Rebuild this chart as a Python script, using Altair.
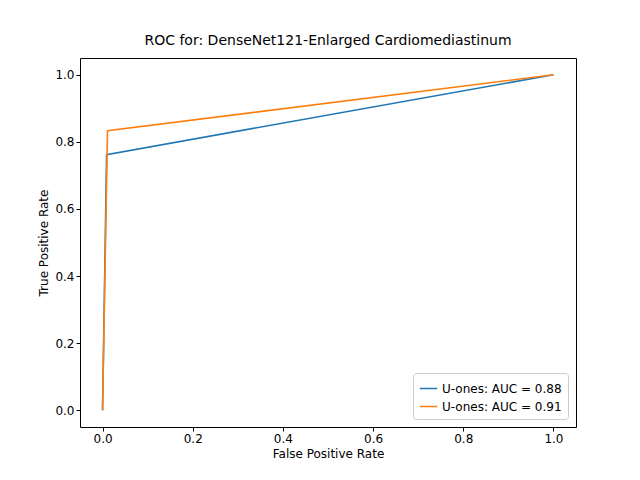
import altair as alt
import pandas as pd

fpr_a = [0.0, 0.009, 1.0]
tpr_a = [0.0, 0.762, 1.0]
fpr_b = [0.0, 0.011, 1.0]
tpr_b = [0.0, 0.833, 1.0]
labels = ["U-ones: AUC = 0.88", "U-ones: AUC = 0.91"]

df = pd.concat([
    pd.DataFrame({"fpr": fpr_a, "tpr": tpr_a, "model": labels[0], "o": range(3)}),
    pd.DataFrame({"fpr": fpr_b, "tpr": tpr_b, "model": labels[1], "o": range(3)}),
])

ticks = [0.0, 0.2, 0.4, 0.6, 0.8, 1.0]
chart = alt.Chart(df).mark_line(strokeWidth=1.6, clip=True).encode(
    x=alt.X("fpr:Q", title="False Positive Rate",
            scale=alt.Scale(domain=[-0.05, 1.05], nice=False, zero=False),
            axis=alt.Axis(values=ticks, format=".1f", grid=False)),
    y=alt.Y("tpr:Q", title="True Positive Rate",
            scale=alt.Scale(domain=[-0.05, 1.05], nice=False, zero=False),
            axis=alt.Axis(values=ticks, format=".1f", grid=False)),
    color=alt.Color("model:N", scale=alt.Scale(domain=labels, range=["#1f77b4", "#ff7f0e"]),
                    legend=alt.Legend(title=None, orient="bottom-right", symbolType="stroke",
                                      strokeColor="#cccccc", padding=6, cornerRadius=3,
                                      fillColor="white", labelFontSize=12, symbolSize=300,
                                      offset=8)),
    order="o:Q",
).properties(
    width=496, height=369,
    title=alt.Title("ROC for: DenseNet121-Enlarged Cardiomediastinum", fontSize=14,
                    fontWeight="normal", offset=10),
    autosize=alt.AutoSizeParams(type="none"),
    padding={"left": 72, "top": 50, "right": 48, "bottom": 45},
).configure(font="DejaVu Sans").configure_view(
    stroke="black", strokeWidth=1
).configure_axis(
    domain=False, labelFontSize=12, titleFontSize=12, titleFontWeight="normal",
    tickColor="black", labelColor="black", titleColor="black", tickSize=4,
)

chart.save("out.html", embed_options={"renderer": "svg", "actions": False})
